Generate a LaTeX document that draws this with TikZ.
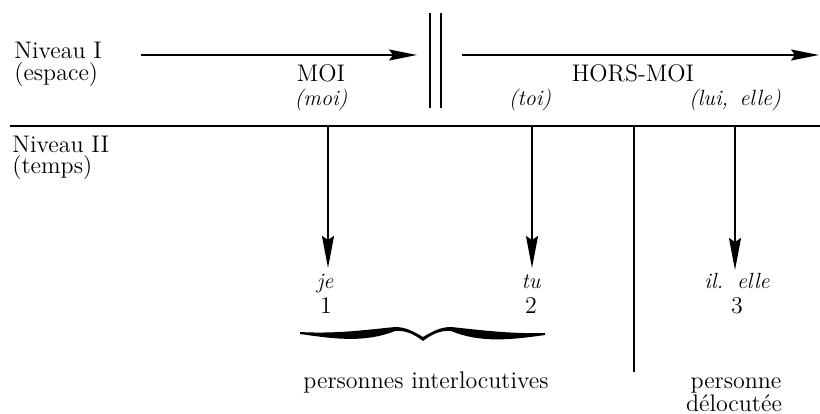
\documentclass[tikz,border=0pt]{standalone}
\usepackage{tikz}
\usetikzlibrary{arrows.meta,positioning}
\tikzset{
    txt/.style={
           inner sep=0pt,
           anchor=base,
           font=\fontsize{12}{14}\selectfont,
           },
    pron/.style={
           txt,
           font=\fontsize{11}{13}\selectfont\itshape,
           },
    levelarrow/.style={
           line width=0.9pt,
           -{Stealth[length=14pt,width=5.5pt,inset=2pt]},
           },
    personarrow/.style={
           line width=1pt,
           -{Stealth[length=16pt,width=6pt,inset=2pt]},
           },
}

\begin{document}
\begin{tikzpicture}[x=0.5pt,y=-0.5pt]
 \useasboundingbox (0,0) rectangle (820,413);

 % level labels on the left
 \node[txt, anchor=base west] (NIVI) at (14,58) {Niveau I};
 \node[txt, anchor=base west] (ESPACE) at (14,80) {(espace)};
 \node[txt, anchor=base west] (NIVII) at (12,152) {Niveau II};
 \node[txt, anchor=base west] (TEMPS) at (12,173) {(temps)};

 % level I : moi / hors-moi
 \coordinate (MOISTART) at (141,55);
 \coordinate (MOIEND) at (417,55);
 \coordinate (HORSSTART) at (462,55);
 \coordinate (HORSEND) at (819,55);
 \draw[levelarrow] (MOISTART) -- (MOIEND);
 \draw[levelarrow] (HORSSTART) -- (HORSEND);

 % the border between MOI and HORS-MOI
 \coordinate (BARATOP) at (430,13);
 \coordinate (BARABOT) at (430,108);
 \coordinate (BARBTOP) at (441,13);
 \coordinate (BARBBOT) at (441,108);
 \draw[line width=0.9pt] (BARATOP) -- (BARABOT);
 \draw[line width=0.9pt] (BARBTOP) -- (BARBBOT);

 \node[txt] (MOI) at (321,81) {MOI};
 \node[pron] (MOIP) at (321,105) {(moi)};
 \node[txt] (HORSMOI) at (633,81) {HORS-MOI};
 \node[pron] (TOI) at (530,105) {(toi)};
 \node[pron] (LUI) at (735,105) {(lui,\, elle)};

 % separation of the two levels
 \coordinate (SEPL) at (10,126);
 \coordinate (SEPR) at (820,126);
 \draw[line width=0.9pt] (SEPL) -- (SEPR);

 % level II : persons
 \node[pron] (JE) at (325,288) {je};
 \node[txt] (ONE) at (326,313) {1};
 \node[pron] (TU) at (531,288) {tu};
 \node[txt] (TWO) at (531,313) {2};
 \node[pron] (IL) at (737,288) {il.\, elle};
 \node[txt] (THREE) at (737,313) {3};

 \coordinate (JETOP) at (328,126);
 \coordinate (JEBOT) at (328,268);
 \coordinate (TUTOP) at (532,126);
 \coordinate (TUBOT) at (532,268);
 \coordinate (ILTOP) at (735,126);
 \coordinate (ILBOT) at (735,270);
 \draw[personarrow] (JETOP) -- (JEBOT);
 \draw[personarrow] (TUTOP) -- (TUBOT);
 \draw[personarrow] (ILTOP) -- (ILBOT);

 % vertical line between interlocutive and delocutive
 \coordinate (DELTOP) at (634,126);
 \coordinate (DELBOT) at (634,372);
 \draw[line width=0.9pt] (DELTOP) -- (DELBOT);

 % brace under je / tu
 \fill (300,332) .. controls (335,334) and (365,330) .. (395,327)
   .. controls (405,327) and (413,331) .. (423,337)
   .. controls (433,331) and (441,327) .. (451,327)
   .. controls (480,330) and (510,334) .. (545,333)
   -- (545,335) .. controls (510,340) and (480,343) .. (451,331)
   .. controls (441,330) and (432,334) .. (423,341)
   .. controls (414,334) and (405,330) .. (395,331)
   .. controls (365,343) and (335,339) .. (300,334) -- cycle;

 \node[txt] (INTERLOC) at (426,388) {personnes interlocutives};
 \node[txt] (PERS) at (736,388) {personne};
 \node[txt] (DELOC) at (734,411) {délocutée};
\end{tikzpicture}
\end{document}
